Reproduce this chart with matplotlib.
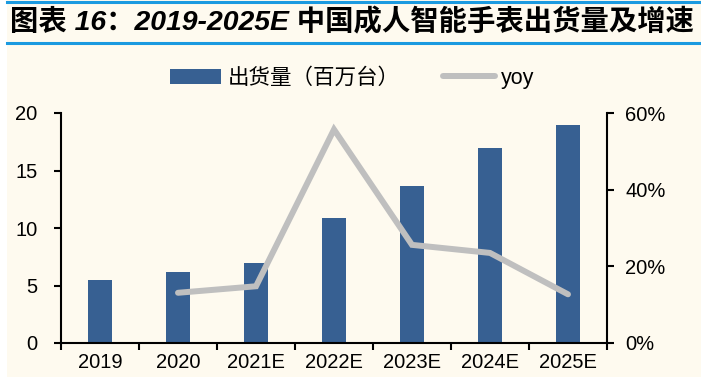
import matplotlib
matplotlib.use("Agg")
import matplotlib.pyplot as plt
from matplotlib.lines import Line2D
from matplotlib.patches import Patch, Rectangle
from matplotlib.ticker import FuncFormatter, FixedLocator, NullFormatter

categories = ["2019", "2020", "2021E", "2022E", "2023E", "2024E", "2025E"]
shipments = [5.5, 6.15, 7.0, 10.85, 13.65, 16.95, 19.0]
yoy_cats = ["2020", "2021E", "2022E", "2023E", "2024E", "2025E"]
yoy = [0.131, 0.148, 0.557, 0.256, 0.235, 0.127]
title = "图表 16：2019-2025E 中国成人智能手表出货量及增速"
bar_label = "出货量（百万台）"
line_label = "yoy"

BG = "#FEFAEF"
BAR = "#376092"
GRAY = "#BFBFBF"
BLUE = "#1B9AE0"
LATIN = ["Liberation Sans", "Noto Sans CJK SC", "DejaVu Sans"]
CJK = ["Noto Sans CJK SC", "DejaVu Sans"]

fig = plt.figure(figsize=(7.01, 3.77), dpi=100, facecolor=BG)
# white strip on the left
fig.patches.append(Rectangle((0, 0), 7 / 701, 1, transform=fig.transFigure,
                             facecolor="white", edgecolor="none", zorder=0))
# title lines
fig.add_artist(Line2D([7 / 701, 1], [1 - 1.5 / 377, 1 - 1.5 / 377], color=BLUE, lw=2.2,
                      transform=fig.transFigure))
fig.add_artist(Line2D([7 / 701, 1], [1 - 43 / 377, 1 - 43 / 377], color=BLUE, lw=2.2,
                      transform=fig.transFigure))
fig.text(10 / 701, 1 - 22 / 377, title, fontsize=20.4, fontweight="bold", style="italic",
         family=LATIN, ha="left", va="center", color="black")

ax = fig.add_axes([61 / 701, 1 - 343 / 377, (607 - 61) / 701, (343 - 113) / 377])
ax.set_facecolor("none")
x = list(range(len(categories)))
ax.bar(x, shipments, width=0.31, color=BAR, zorder=2)
ax.set_xlim(-0.5, len(categories) - 0.5)
ax.set_ylim(0, 20)
ax.set_yticks([0, 5, 10, 15, 20])

ax2 = ax.twinx()
xi = [categories.index(c) for c in yoy_cats]
ax2.plot(xi, yoy, color=GRAY, lw=4.3, solid_capstyle="round", solid_joinstyle="miter", zorder=3)
ax2.set_ylim(0, 0.6)
ax2.set_yticks([0, 0.2, 0.4, 0.6])
ax2.yaxis.set_major_formatter(FuncFormatter(lambda v, p: f"{v*100:.0f}%"))

for a in (ax, ax2):
    for s in a.spines.values():
        s.set_linewidth(1.5)
        s.set_color("black")
    a.spines["top"].set_visible(False)
ax.spines["right"].set_visible(False)
ax2.spines["left"].set_visible(False)
ax2.spines["bottom"].set_visible(False)

ax.xaxis.set_major_locator(FixedLocator([i - 0.5 for i in range(len(categories) + 1)]))
ax.xaxis.set_major_formatter(NullFormatter())
ax.xaxis.set_minor_locator(FixedLocator(x))
ax.set_xticklabels(categories, minor=True)
ax.tick_params(axis="x", which="major", direction="out", length=5, width=1.5)
ax.tick_params(axis="x", which="minor", length=0, pad=7, labelsize=14.5)
ax.tick_params(axis="y", direction="out", length=5, width=1.5, labelsize=14.5, pad=12)
ax2.tick_params(axis="y", direction="out", length=5, width=1.5, labelsize=14.5, pad=8)
for lab in ax.get_xticklabels(minor=True) + ax.get_yticklabels() + ax2.get_yticklabels():
    lab.set_family(LATIN)

handles = [Patch(facecolor=BAR, edgecolor="none"),
           Line2D([0], [0], color=GRAY, lw=4.3, solid_capstyle="round")]
leg = fig.legend(handles, [bar_label, line_label], ncol=2, loc="center",
                 bbox_to_anchor=(352 / 701, 1 - 78 / 377), frameon=False,
                 fontsize=15.5, handlelength=2.4, handleheight=0.7, handletextpad=0.3,
                 columnspacing=2.0)
texts = leg.get_texts()
texts[0].set_family(CJK)
texts[1].set_family(LATIN)

fig.savefig("out.png", dpi=100, facecolor=BG)
